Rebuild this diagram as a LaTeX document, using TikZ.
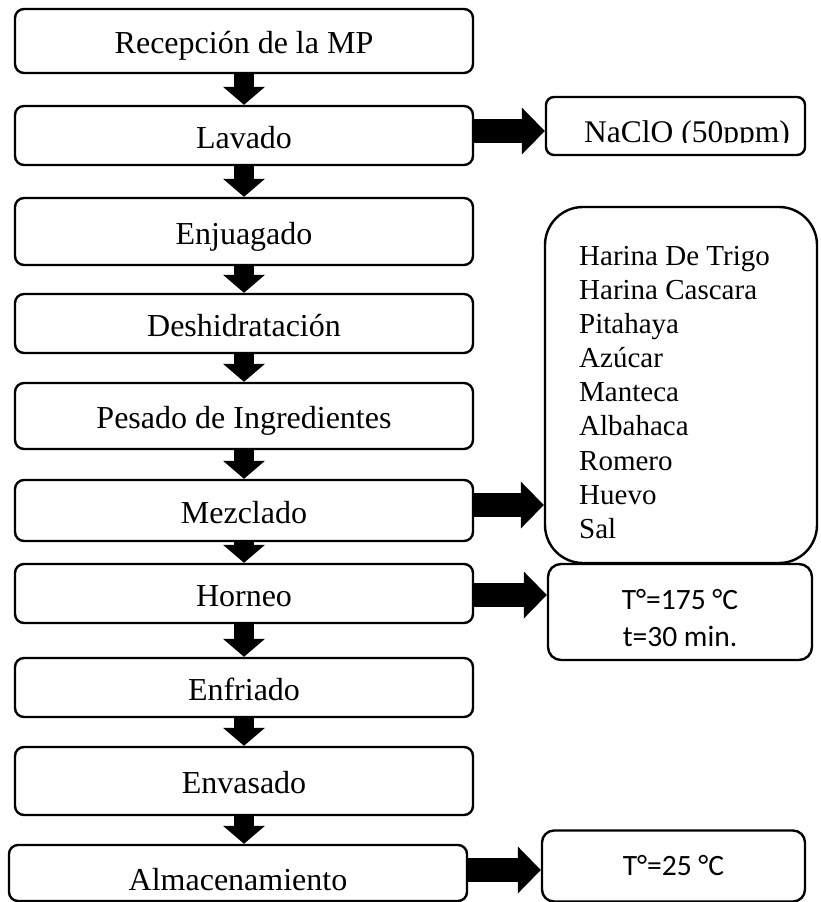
\documentclass[tikz,border=0pt]{standalone}
\usepackage{fontspec}
\setmainfont{Liberation Serif}
\newfontfamily\calibri{Carlito}
\usetikzlibrary{arrows.meta}
\tikzset{
    paso/.style={draw, line width=2.4pt, rounded corners=9pt, minimum width=458pt, inner sep=2pt,
        text height=25pt, text depth=0pt, font=\fontsize{32}{38}\selectfont},
    caja/.style={draw, line width=2.4pt, inner sep=0pt},
    abajo/.style={line width=20pt, -{Triangle[width=42pt,length=18pt,line width=0pt]}},
    lado/.style={line width=24pt, -{Triangle[width=47pt,length=23pt,line width=0pt]}}
}

\begin{document}
\begin{tikzpicture}[x=1pt,y=-1pt]
    \useasboundingbox (0,0) rectangle (821,902);
    % 主流程
    \node[paso, minimum height=64pt] (rec) at (244,41) {Recepción de la MP};
    \node[paso, minimum height=59pt] (lav) at (244,135.5) {Lavado};
    \node[paso, minimum height=67pt] (enj) at (244,231.5) {Enjuagado};
    \node[paso, minimum height=59pt] (des) at (244,323.5) {Deshidratación};
    \node[paso, minimum height=66pt] (pes) at (244,416) {Pesado de Ingredientes};
    \node[paso, minimum height=61pt] (mez) at (244,510.5) {Mezclado};
    \node[paso, minimum height=59pt] (hor) at (244,593.5) {Horneo};
    \node[paso, minimum height=59pt] (enf) at (244,687.5) {Enfriado};
    \node[paso, minimum height=68pt] (env) at (244,781) {Envasado};
    \node[paso, minimum height=56pt, text height=34pt] (alm) at (238,873) {Almacenamiento};

    % 右侧
    \node[caja, rounded corners=8pt, minimum width=259pt, minimum height=58pt] (nac) at (675.5,126) {};
    \begin{scope}
        \clip (548,99) rectangle (803,142);
        \node[anchor=base, inner sep=0pt, font=\fontsize{31.5}{38}\selectfont] (nactxt) at (687,142) {NaClO (50ppm)};
    \end{scope}
    \node[caja, rounded corners=38pt, minimum width=272pt, minimum height=356pt] (ing) at (681,385) {};
    \node[anchor=north west, align=left, inner sep=0pt, font=\fontsize{29}{34.1}\selectfont] (ingtxt) at (579,246)
        {Harina De Trigo\\Harina Cascara\\Pitahaya\\Azúcar\\Manteca\\Albahaca\\Romero\\Huevo\\Sal};
    \node[caja, rounded corners=13pt, minimum width=264pt, minimum height=96pt, align=center,
        font=\calibri\fontsize{29.5}{37}\selectfont] (tem1) at (680,612)
        {\rule{0pt}{33pt}T°=175 °C\\t=30 min.};
    \node[caja, rounded corners=12pt, minimum width=263pt, minimum height=71pt,
        font=\calibri\fontsize{29.5}{34}\selectfont] (tem2) at (673.5,866) {T°=25 °C};

    % 箭头
    \foreach \a/\b in {rec/lav,lav/enj,enj/des,des/pes,pes/mez,mez/hor,hor/enf,enf/env}
        \draw[abajo] (\a.south) -- (\b.north);
    \draw[abajo] (env.south) -- (env.south |- alm.north);

    \coordinate (s1) at ([yshift=4.5pt]lav.east);
    \coordinate (s2) at ([yshift=5.5pt]mez.east);
    \coordinate (s3) at ([yshift=-1.5pt]hor.east);
    \coordinate (s4) at ([yshift=3pt]alm.east);
    \draw[lado] (s1) -- (s1 -| nac.west);
    \draw[lado] (s2) -- (s2 -| ing.west);
    \draw[lado] (s3) -- (s3 -| tem1.west);
    \draw[lado] (s4) -- (s4 -| tem2.west);
\end{tikzpicture}
\end{document}
